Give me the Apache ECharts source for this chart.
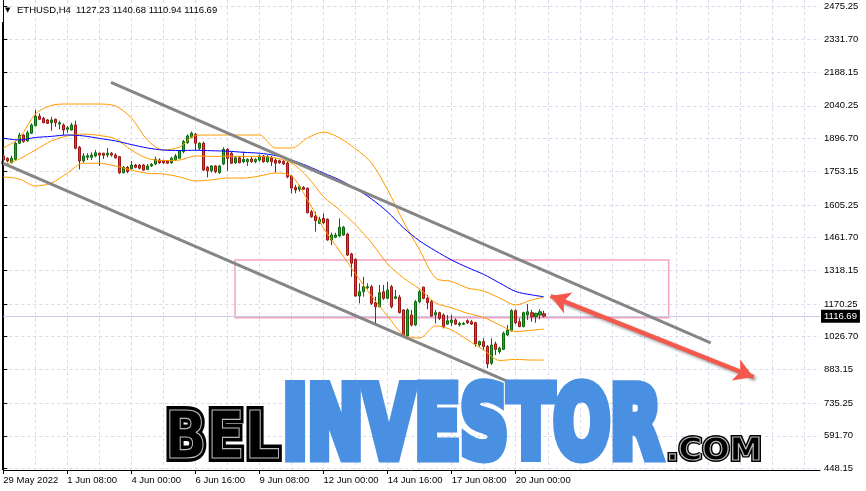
<!DOCTYPE html>
<html><head><meta charset="utf-8">
<script src="https://cdn.jsdelivr.net/npm/echarts@6/dist/echarts.min.js"></script>
<style>html,body{margin:0;padding:0;background:#fff}#c{width:866px;height:491px}</style>
</head><body><div id="c"></div>
<script>
// ---------------- data ----------------
const headerSymbol = 'ETHUSD,H4';
const headerOHLC = ['1127.23', '1140.68', '1110.94', '1116.69'];
const startTimeUTC = Date.UTC(2022, 4, 29, 16, 0); // first bar
const barHours = 4;
const slotCount = 205;            // bars + empty space on the right
const xTickStep = 16;
const xTickLabels = ['29 May 2022', '1 Jun 08:00', '4 Jun 00:00', '6 Jun 16:00', '9 Jun 08:00',
  '12 Jun 00:00', '14 Jun 16:00', '17 Jun 08:00', '20 Jun 00:00'];
const yTickValues = [2475.25, 2331.70, 2188.15, 2040.25, 1896.70, 1753.15, 1605.25, 1461.70,
  1318.15, 1170.25, 1026.70, 883.15, 735.25, 591.70, 448.15];
const yMin = 441.36, yMax = 2504.66;

// [open, close, low, high]
const candles = [
[1820,1802,1793,1827],[1810,1798,1792,1814],[1790,1810,1788,1821],[1805,1876,1802,1883],
[1876,1912,1872,1922],[1912,1883,1878,1916],[1886,1922,1883,1931],[1920,1956,1916,1963],
[1953,1995,1951,2022],[1995,1981,1978,2007],[1985,1966,1963,1992],[1978,1963,1960,1982],
[1966,1978,1931,1992],[1981,1966,1948,1984],[1960,1966,1937,1975],[1956,1934,1912,1963],
[1937,1944,1922,1952],[1934,1956,1931,1966],[1956,1854,1849,1975],[1858,1798,1761,1864],
[1798,1820,1790,1832],[1814,1821,1802,1832],[1814,1824,1802,1836],[1820,1834,1814,1846],
[1832,1824,1776,1834],[1832,1823,1807,1834],[1824,1832,1814,1855],[1832,1824,1817,1837],
[1824,1812,1807,1832],[1817,1746,1741,1820],[1746,1770,1744,1776],[1770,1751,1744,1776],
[1764,1780,1761,1798],[1780,1770,1766,1785],[1780,1766,1761,1785],[1780,1758,1755,1785],
[1761,1776,1758,1785],[1776,1783,1772,1789],[1785,1805,1780,1817],[1802,1790,1785,1810],
[1799,1790,1786,1804],[1798,1788,1785,1802],[1790,1810,1785,1817],[1802,1820,1799,1829],
[1810,1842,1807,1846],[1839,1883,1832,1890],[1878,1908,1873,1915],[1902,1920,1898,1927],
[1915,1876,1846,1920],[1854,1876,1846,1880],[1876,1758,1755,1883],[1770,1755,1726,1776],
[1755,1776,1747,1780],[1776,1751,1744,1780],[1747,1776,1741,1780],[1785,1849,1780,1858],
[1849,1810,1755,1854],[1832,1788,1785,1839],[1790,1812,1785,1820],[1812,1790,1788,1820],
[1795,1805,1788,1839],[1795,1805,1776,1810],[1807,1795,1790,1817],[1795,1805,1788,1810],
[1802,1820,1795,1827],[1820,1795,1790,1824],[1795,1817,1790,1824],[1812,1795,1776,1820],
[1802,1788,1747,1810],[1799,1790,1785,1804],[1796,1785,1780,1802],[1789,1728,1722,1798],
[1732,1679,1656,1736],[1682,1671,1656,1693],[1674,1685,1663,1693],[1682,1674,1671,1688],
[1678,1571,1568,1682],[1575,1553,1549,1583],[1556,1536,1488,1575],[1524,1542,1521,1553],
[1546,1527,1521,1568],[1542,1451,1448,1546],[1451,1473,1429,1483],[1463,1473,1459,1483],
[1469,1507,1463,1546],[1473,1507,1469,1513],[1477,1385,1381,1483],[1390,1349,1290,1395],
[1366,1205,1202,1371],[1205,1224,1173,1261],[1224,1246,1202,1290],[1242,1246,1235,1261],
[1246,1173,1166,1254],[1176,1158,1085,1202],[1158,1220,1156,1254],[1224,1195,1188,1254],
[1195,1232,1191,1268],[1246,1158,1151,1254],[1195,1202,1191,1232],[1200,1132,1129,1210],
[1144,1030,1027,1147],[1030,1144,1015,1151],[1122,1078,1071,1144],[1078,1180,1074,1188],
[1180,1224,1173,1232],[1244,1195,1191,1246],[1195,1176,1147,1210],[1180,1117,1114,1188],
[1122,1132,1085,1144],[1132,1107,1100,1136],[1122,1071,1063,1129],[1082,1097,1078,1122],
[1088,1100,1074,1122],[1100,1082,1078,1107],[1078,1085,1071,1092],[1081,1085,1078,1091],
[1097,1088,1082,1103],[1092,1082,1078,1100],[1088,995,983,1092],[990,1005,983,1009],
[1005,983,968,1020],[983,907,888,990],[910,990,902,1020],[995,971,946,1005],
[961,976,951,983],[971,1042,968,1049],[1034,1056,1030,1078],[1053,1141,1049,1147],
[1141,1088,1082,1147],[1092,1071,1068,1107],[1071,1132,1068,1136],[1122,1136,1100,1170],
[1132,1114,1092,1144],[1114,1129,1088,1132],[1122,1136,1103,1147],[1127.23,1116.69,1110.94,1140.68]
];

// indicator lines, read at these bar indices
const lineIdx = [0,4,8,12,16,20,24,28,32,36,40,44,48,52,56,60,64,68,72,76,80,84,88,92,96,100,104,108,112,116,120,124,128,132,135];
const bbUpper = [1855,1899,2004,2042,2048,2048,2048,2039,1987,1890,1846,1859,1910,1912,1912,1912,1912,1855,1855,1899,1925,1899,1851,1789,1671,1530,1407,1284,1269,1240,1227,1196,1166,1188,1200];
const bbMiddle = [1780,1807,1846,1886,1908,1916,1910,1895,1846,1809,1800,1802,1820,1818,1819,1818,1818,1811,1789,1728,1641,1583,1517,1438,1346,1284,1236,1175,1153,1129,1111,1078,1049,1055,1060];
const bbLower = [1728,1719,1688,1701,1745,1788,1788,1776,1758,1744,1741,1728,1710,1715,1723,1723,1732,1745,1732,1627,1504,1403,1302,1205,1117,1034,1021,1074,1056,1012,968,922,927,924,924];
const maLine = [1898,1890,1901,1906,1912,1908,1897,1886,1870,1855,1846,1844,1845,1843,1841,1836,1832,1822,1802,1776,1745,1715,1677,1631,1574,1504,1447,1403,1363,1330,1300,1262,1225,1210,1202];

const lastPrice = 1116.69;
// drawings: [bar index, price]
const trendUpper = [[26.9, 2142.5], [176.7, 998.9]];
const trendLower = [[-0.8, 1793.5], [137.2, 744.3]];
const zoneBox = [[57.9, 1363.3], [166.2, 1110.0]];
const arrowPath = [[136.7, 1205.2], [187.4, 849.6]];

// ---------------- build ----------------
const months = ['Jan','Feb','Mar','Apr','May','Jun','Jul','Aug','Sep','Oct','Nov','Dec'];
const categories = [];
for (let i = 0; i < slotCount; i++) {
  const d = new Date(startTimeUTC + i * barHours * 3600e3);
  categories.push(d.getUTCDate() + ' ' + months[d.getUTCMonth()] + ' ' +
    String(d.getUTCHours()).padStart(2, '0') + ':00');
}
const pair = arr => lineIdx.map((ix, k) => [ix, arr[k]]);
const FONT = '"Liberation Sans", Arial, sans-serif';
const gridColor = '#d8d8ee';

const mctx = document.createElement('canvas').getContext('2d');
function fitText(text, weight, family, left, top, right, bottom, sw) {
  mctx.textBaseline = 'middle';
  mctx.font = weight + ' 100px ' + family;
  let m = mctx.measureText('BE');
  let m2 = mctx.measureText(text);
  const capH100 = m.actualBoundingBoxAscent + m.actualBoundingBoxDescent;
  const fs = ((bottom - top) - sw) * 100 / capH100;
  mctx.font = weight + ' ' + fs + 'px ' + family;
  m = mctx.measureText('BE');
  m2 = mctx.measureText(text);
  const ink = m2.actualBoundingBoxLeft + m2.actualBoundingBoxRight;
  const sx = ((right - left) - sw * 0.7) / ink;
  return {
    font: weight + ' ' + fs + 'px ' + family,
    x: left + sw * 0.35 + m2.actualBoundingBoxLeft * sx,
    y: top + sw / 2 + m.actualBoundingBoxAscent,
    sx
  };
}
function wmText(text, box, fill, stroke, sw, inline) {
  const f = fitText(text, 'bold', '"DejaVu Sans"', box[0], box[1], box[2], box[3], sw);
  const els = [{
    type: 'text', x: f.x, y: f.y, scaleX: f.sx, z: 100,
    style: { text, font: f.font, fill, stroke, lineWidth: sw, lineJoin: 'miter', align: 'left', verticalAlign: 'middle',
      textAlign: 'left', textVerticalAlign: 'middle',
      shadowBlur: 4, shadowColor: 'rgba(0,0,0,0.35)', shadowOffsetX: 1.5, shadowOffsetY: 1.5 }
  }];
  if (inline) els.push({
    type: 'text', x: f.x, y: f.y, scaleX: f.sx, z: 101,
    style: { text, font: f.font, fill: 'rgba(0,0,0,0)', stroke: inline, lineWidth: 1.2, align: 'left',
      verticalAlign: 'middle', textAlign: 'left', textVerticalAlign: 'middle' }
  });
  return els;
}

const chart = echarts.init(document.getElementById('c'), null, { renderer: 'canvas' });
const lineSeries = (name, arr, color) => ({
  name, type: 'line', xAxisIndex: 1, yAxisIndex: 0, data: pair(arr), symbol: 'none', smooth: 0.3,
  lineStyle: { color, width: 1 }, z: 4, silent: true
});

chart.setOption({
  animation: false,
  backgroundColor: '#fff',
  textStyle: { fontFamily: FONT },
  grid: { left: 3.3, right: 46, top: 0, bottom: 21, containLabel: false },
  xAxis: [{
    type: 'category', data: categories, boundaryGap: false,
    axisLine: { lineStyle: { color: '#000', width: 1 } },
    axisTick: { length: 4, interval: i => i % xTickStep === 0 && i <= 128, lineStyle: { color: '#000' } },
    axisLabel: { interval: i => i % xTickStep === 0 && i <= 128, align: 'left', margin: 5,
      color: '#000', fontSize: 9.5, fontFamily: FONT,
      formatter: (v, i) => xTickLabels[i / xTickStep] || '' },
    splitLine: { show: true, interval: i => i % 8 === 0 && i > 0,
      lineStyle: { color: gridColor, type: [3, 3], width: 1 } }
  }, {
    type: 'value', min: 0, max: slotCount - 1, show: false
  }],
  yAxis: [{
    type: 'value', position: 'right', min: yMin, max: yMax, scale: true,
    axisLine: { show: true, lineStyle: { color: '#000', width: 1 } },
    axisTick: { show: true, length: 4, customValues: yTickValues, lineStyle: { color: '#000' } },
    axisLabel: { customValues: yTickValues, formatter: v => Number(v).toFixed(2), margin: 4,
      color: '#000', fontSize: 9.5, fontFamily: FONT },
    splitLine: { show: true, lineStyle: { color: gridColor, type: [3, 3], width: 1 } }
  }],
  series: [{
    name: 'ETHUSD', type: 'candlestick', data: candles, barWidth: 3, z: 3,
    itemStyle: { color: '#2ca02c', color0: '#e0393b', borderColor: '#0c6b0c', borderColor0: '#9b1515', borderWidth: 1 },
    markLine: {
      silent: true, symbol: 'none', z: 1,
      data: [{ yAxis: lastPrice }],
      lineStyle: { color: '#c9c9ea', width: 1, type: 'solid' },
      label: { show: true, position: 'end', formatter: lastPrice.toFixed(2), color: '#fff',
        backgroundColor: '#000', padding: [2, 3, 1, 3], fontSize: 9.5, fontFamily: FONT, distance: 1 }
    }
  },
  lineSeries('BB upper', bbUpper, '#ff9a00'),
  lineSeries('BB middle', bbMiddle, '#ff9a00'),
  lineSeries('BB lower', bbLower, '#ff9a00'),
  lineSeries('MA', maLine, '#0000ff'),
  { name: 'trend upper', type: 'line', xAxisIndex: 1, data: trendUpper, symbol: 'none', silent: true,
    lineStyle: { color: '#858585', width: 3 }, z: 6 },
  { name: 'trend lower', type: 'line', xAxisIndex: 1, data: trendLower, symbol: 'none', silent: true,
    lineStyle: { color: '#858585', width: 3 }, z: 6 },
  { name: 'zone', type: 'line', xAxisIndex: 1, data: [], z: 5,
    markArea: { silent: true, itemStyle: { color: 'rgba(0,0,0,0)', borderColor: '#f5a3be', borderWidth: 1.5 },
      data: [[{ coord: zoneBox[0] }, { coord: zoneBox[1] }]] } },
  { name: 'arrow', type: 'line', xAxisIndex: 1, data: [], z: 7,
    markLine: { silent: true, symbol: ['arrow', 'arrow'], symbolSize: [17, 19],
      lineStyle: { color: '#f4574b', width: 4.5, type: 'solid', shadowColor: 'rgba(0,0,0,0.4)', shadowBlur: 3, shadowOffsetX: 2, shadowOffsetY: 2 },
      itemStyle: { color: '#f4574b' },
      label: { show: false },
      data: [[{ coord: arrowPath[0] }, { coord: arrowPath[1] }]] } }
  ],
  graphic: [
    { type: 'line', shape: { x1: 2.5, y1: 22, x2: 2.5, y2: 470 }, style: { stroke: '#000', lineWidth: 1 }, z: 50 },
    { type: 'text', x: 5, y: 10, z: 60, style: { text: '\u25BC', font: '7px "DejaVu Sans"', fill: '#000', verticalAlign: 'middle', textVerticalAlign: 'middle' } },
    { type: 'text', x: 17, y: 10, z: 60, style: { text: headerSymbol + '  ' + headerOHLC.join(' '), font: '9.5px ' + FONT, fill: '#000', verticalAlign: 'middle', textVerticalAlign: 'middle' } },
    ...wmText('BEL', [167, 406, 282, 462], '#000', '#000', 8, '#b8b8b8'),
    ...wmText('INVESTOR', [285, 379, 664, 462], '#4a90e2', '#4a90e2', 11, null),
    ...wmText('.COM', [668, 435, 761, 462], '#000', '#000', 4, '#b8b8b8')
  ]
});
</script>
</body></html>
